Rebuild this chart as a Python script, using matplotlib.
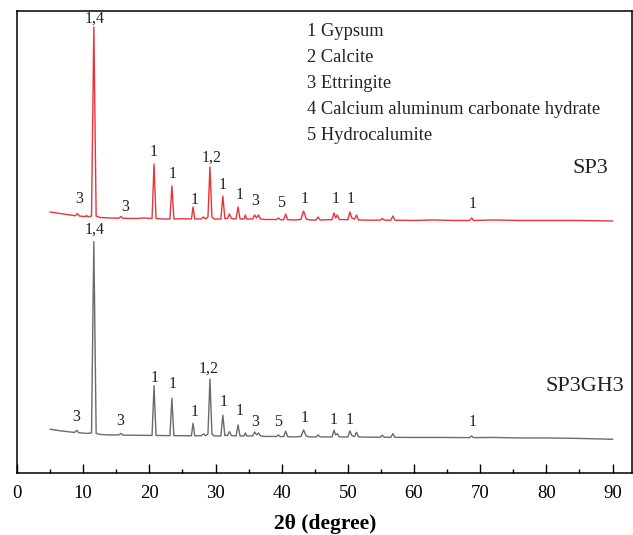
import matplotlib
matplotlib.use("Agg")
import matplotlib.pyplot as plt
from matplotlib.ticker import MultipleLocator

plt.rcParams['font.family'] = ['Liberation Serif', 'DejaVu Serif']

# XRD traces, SP3 is stacked above SP3GH3
two_theta_sp3 = [5, 6.5, 8, 8.8, 9.1, 9.4, 10.3, 10.5, 10.7, 11.25, 11.6, 11.95, 12.5, 14,
                 15.4, 15.7, 16.0, 18, 19.2, 20.4, 20.7, 21.0, 22, 23.1, 23.4, 23.7, 25,
                 26.35, 26.6, 26.85, 27.8, 28.2, 28.5, 28.85, 29.15, 29.45, 29.8, 30.8, 31.1,
                 31.4, 31.8, 32.1, 32.4, 33.1, 33.4, 33.7, 34.3, 34.5, 34.7, 35.6, 35.9, 36.2,
                 36.5, 36.8, 37.5, 39.2, 39.5, 39.8, 40.3, 40.6, 40.9, 42, 42.9, 43.3, 43.7,
                 44.2, 45.2, 45.5, 45.8, 47.6, 47.9, 48.15, 48.4, 48.7, 50.0, 50.3, 50.6, 51.0,
                 51.3, 51.6, 53, 54.9, 55.2, 55.5, 56.5, 56.8, 57.1, 60, 63, 66, 68.4, 68.7,
                 69.0, 72, 76, 80, 85, 90]
intensity_sp3 = [261, 259.5, 258, 257.2, 259.5, 257, 256.3, 257.5, 256, 257, 446, 257, 255.5, 255,
                 254.8, 256.5, 254.7, 254.5, 255, 254.5, 309, 254.5, 254, 254, 287, 254, 254.3,
                 254, 266, 254, 254, 256, 254, 256, 306, 256, 254, 254, 277,
                 254.5, 254.5, 259, 254.5, 254, 266, 254, 254, 258, 254, 254, 258, 255,
                 258, 254, 253.5, 253.5, 255, 253.3, 253.3, 259, 253.3, 253, 253.5, 262, 254,
                 253, 253, 256, 253, 253.3, 260, 255, 258, 253.5, 253.3, 261, 255, 253.8,
                 258, 253, 252.8, 252.8, 254.5, 252.8, 252.8, 257, 252.8, 252.5, 253, 252.5, 252.5, 255,
                 252.5, 253, 252.5, 252.5, 252.5, 252]

two_theta_gh3 = [5, 6.5, 8, 8.7, 9.0, 9.3, 10.5, 11.25, 11.6, 11.95, 12.5, 14, 15.4, 15.7, 16.0,
                 18, 20.4, 20.7, 21.0, 23.1, 23.4, 23.7, 26.35, 26.6, 26.85, 27.8, 28.2, 28.5,
                 28.85, 29.15, 29.45, 29.8, 30.8, 31.1, 31.4, 31.8, 32.1, 32.4, 33.1, 33.4, 33.7,
                 34.3, 34.5, 34.7, 35.6, 35.9, 36.2, 36.5, 36.8, 37.5, 39.2, 39.5, 39.8, 40.3,
                 40.6, 40.9, 42, 42.9, 43.3, 43.7, 44.2, 45.2, 45.5, 45.8, 47.6, 47.9, 48.15,
                 48.4, 48.7, 50.0, 50.3, 50.6, 51.0, 51.3, 51.6, 53, 54.9, 55.2, 55.5, 56.5, 56.8,
                 57.1, 60, 64, 68.4, 68.7, 69.0, 72, 76, 80, 85, 90]
intensity_gh3 = [43.7, 42.2, 41, 40.5, 42.7, 40.3, 39.5, 40, 231.3, 39.5, 38.5, 38, 38, 39.5, 37.8,
                 37.7, 37.5, 87.3, 37.5, 37.3, 74.7, 37.3, 37.2, 49.7, 37.2, 37.2, 39, 37.2,
                 39, 94, 39, 37, 37, 57.7, 37.5, 37.5, 41.3, 37.3, 37, 48, 37,
                 37, 40, 37, 37, 41, 38, 40, 37, 36.5, 36.5, 38, 36.3, 36.3,
                 41.7, 36.3, 36, 36.5, 43, 37, 36, 36, 38, 36, 36, 42.7, 38,
                 39.3, 36, 36, 42, 37.5, 36.3, 40.7, 36, 35.8, 35.7, 37.7, 35.7, 35.7, 39.3,
                 35.6, 35.5, 35.5, 35.3, 37, 35.3, 35.5, 35, 35, 34.5, 33.7]

# phase labels above the peaks: (text, 2theta, height)
labels_sp3 = [("1,4", 11.65, 454), ("3", 9.4, 274), ("3", 16.3, 266), ("1", 20.6, 321),
              ("1", 23.45, 299), ("1", 26.9, 273), ("1,2", 29.45, 315), ("1", 31.1, 288),
              ("1", 33.6, 278), ("3", 36.0, 272.3), ("5", 39.9, 269.7), ("1", 43.5, 273.7),
              ("1", 48.15, 274), ("1", 50.4, 274), ("1", 68.9, 269)]
labels_gh3 = [("1,4", 11.65, 243.7), ("3", 9.0, 55.7), ("3", 15.6, 52.3), ("1", 20.8, 95.3),
              ("1", 23.55, 89), ("1", 26.8, 61.3), ("1,2", 29.0, 104.7), ("1", 31.2, 71.3),
              ("1", 33.6, 62.3), ("3", 36.05, 51.3), ("5", 39.45, 50.7), ("1", 43.5, 54.7),
              ("1", 47.85, 53), ("1", 50.3, 53), ("1", 68.9, 51.3)]

phases = ["1 Gypsum", "2 Calcite", "3 Ettringite",
          "4 Calcium aluminum carbonate hydrate", "5 Hydrocalumite"]

fig = plt.figure(figsize=(6.33, 5.35), dpi=100)
ax = fig.add_axes([0.027, 0.116, 0.972, 0.8634])

ax.plot(two_theta_sp3, intensity_sp3, color="#e8343a", lw=1.0)
ax.plot(two_theta_gh3, intensity_gh3, color="#6b6b6b", lw=1.0)

for txt, x, y in labels_sp3 + labels_gh3:
    ax.text(x, y, txt, ha="center", va="center", fontsize=11.5, color="#222222")

for i, p in enumerate(phases):
    ax.text(43.8, 441.3 - 26 * i, p, ha="left", va="center", fontsize=13.3, color="#222222")

ax.text(89.3, 304, "SP3", ha="right", va="center", fontsize=16, color="#222222")
ax.text(91.7, 86.3, "SP3GH3", ha="right", va="center", fontsize=16, color="#222222")

ax.set_xlim(0, 93)
ax.set_ylim(0, 462)
ax.set_yticks([])
ax.xaxis.set_major_locator(MultipleLocator(10))
ax.xaxis.set_minor_locator(MultipleLocator(5))
ax.tick_params(axis="x", which="major", direction="in", length=6.5, width=1, labelsize=13.5, pad=9)
ax.tick_params(axis="x", which="minor", direction="in", length=3, width=1)
for s in ax.spines.values():
    s.set_linewidth(1.1)
ax.set_xlabel("2θ (degree)", fontsize=15.5, fontweight="bold", labelpad=8)

fig.savefig("out.png", dpi=100)
